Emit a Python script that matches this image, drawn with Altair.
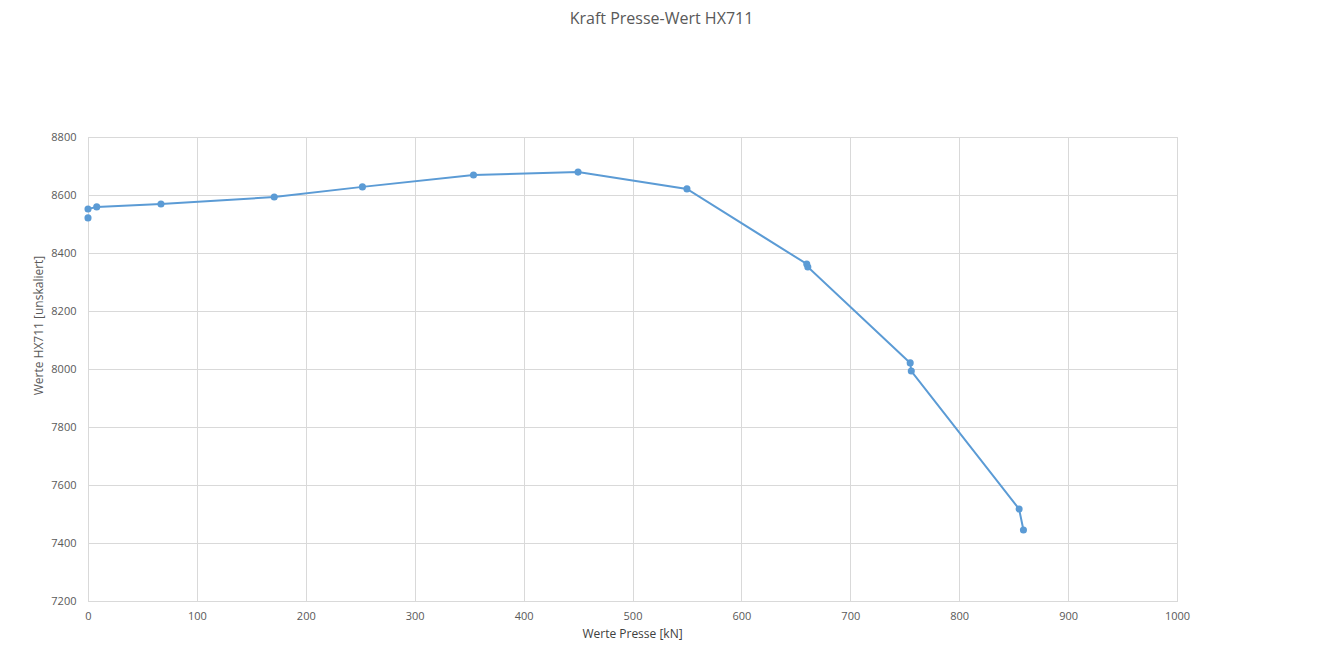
import altair as alt
import pandas as pd

# Measured points (x = Werte Presse [kN], y = Werte HX711)
presse = [0, 0, 8, 67, 171, 252, 354, 450, 550, 660, 661, 755, 756, 855, 859]
hx711 = [8521, 8552, 8559, 8569, 8593, 8628, 8669, 8679, 8621, 8362, 8352, 8021, 7993, 7517, 7445]
on_line = [False] + [True] * 14

df = pd.DataFrame({"presse": presse, "hx711": hx711, "order": list(range(len(presse))), "on_line": on_line})

color = "#5B9BD5"
font = "Open Sans"

x = alt.X("presse:Q", scale=alt.Scale(domain=[0, 1000], nice=False),
          axis=alt.Axis(values=list(range(0, 1001, 100)), format="d", title="Werte Presse [kN]",
                        titleX=544, titleY=32, titleBaseline="middle", titleFontWeight="normal",
                        titleFontSize=12, titleColor="#404040", titleFont=font,
                        labelFont=font, labelFontSize=11, labelColor="#595959", labelPadding=9,
                        ticks=False, domainColor="#d9d9d9", gridColor="#d9d9d9", labelFlush=False))
y = alt.Y("hx711:Q", scale=alt.Scale(domain=[7200, 8800], nice=False, zero=False),
          axis=alt.Axis(values=list(range(7200, 8801, 200)), format="d", title="Werte HX711 [unskaliert]",
                        titleX=-50, titleY=188, titleAngle=270, titleBaseline="middle", titleAlign="center",
                        titleFontWeight="normal", titleFontSize=12, titleColor="#595959", titleFont=font,
                        labelFont=font, labelFontSize=11, labelColor="#595959", labelPadding=12,
                        ticks=False, domainColor="#d9d9d9", gridColor="#d9d9d9"))

line = alt.Chart(df).transform_filter("datum.on_line").mark_line(color=color, strokeWidth=2).encode(
    x=x, y=y, order="order:Q")
pts = alt.Chart(df).mark_circle(color=color, size=50, opacity=1).encode(x=x, y=y)

chart = alt.layer(line, pts).properties(
    width=1089, height=464,
    title=alt.TitleParams("Kraft Presse-Wert HX711", font=font, fontSize=16, fontWeight="normal",
                          color="#595959", anchor="middle", offset=104, dx=29),
    autosize=alt.AutoSizeParams(type="none"),
    padding={"left": 80, "top": 129, "right": 30, "bottom": 40},
).configure_view(stroke="#d9d9d9", strokeWidth=1)

chart.save("out.html", embed_options={"renderer": "svg", "actions": False})
